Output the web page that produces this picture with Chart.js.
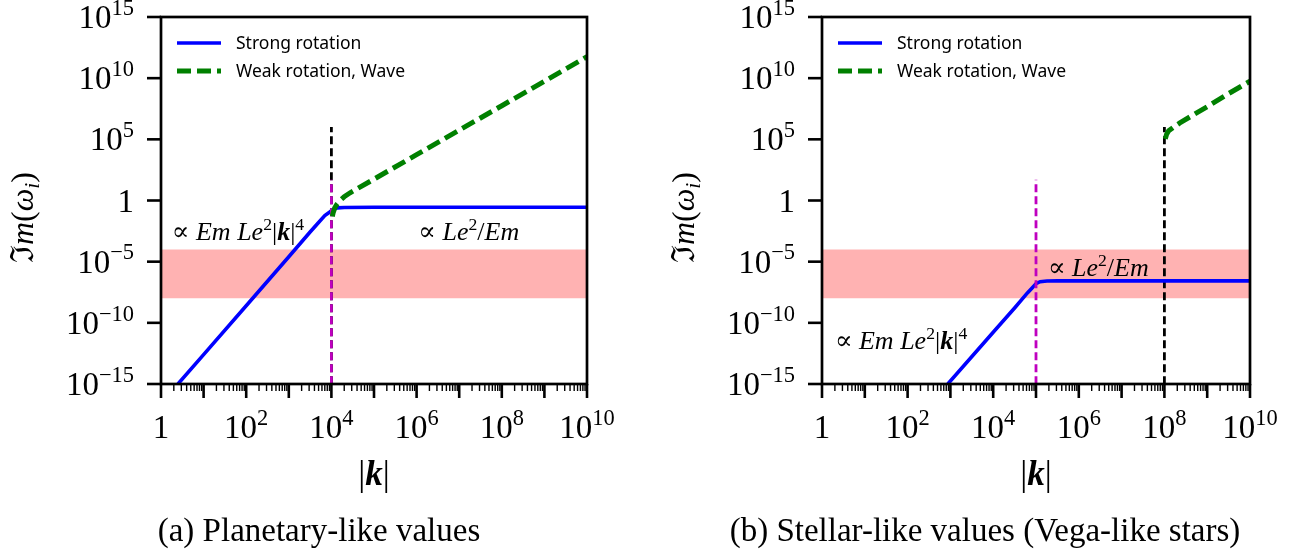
<!DOCTYPE html>
<html>
<head>
<meta charset="utf-8">
<script src="https://cdn.jsdelivr.net/npm/chart.js@4.4.1/dist/chart.umd.min.js"></script>
<style>
  body { margin: 0; background: #fff; }
  #wrap { position: relative; width: 1303px; height: 551px; }
  canvas { position: absolute; top: 0; }
</style>
</head>
<body>
<div id="wrap">
  <canvas id="planet" width="651" height="551" style="left:0"></canvas>
  <canvas id="stellar" width="652" height="551" style="left:651px"></canvas>
</div>
<script>
// axis ticks
const xMajorTicks = [1, 1e1, 1e2, 1e3, 1e4, 1e5, 1e6, 1e7, 1e8, 1e9, 1e10];
const xLabelExps = [0, 2, 4, 6, 8, 10];
const yTickExps = [-15, -10, -5, 0, 5, 10, 15];
const legendLabels = ['Strong rotation', 'Weak rotation, Wave'];

// shaded band (lower, upper)
const bandRange = [1e-8, 1e-4];

// (a) planetary-like values
const planetStrongK = [2.5, 10, 100, 1000, 3200, 5000, 7000, 9000, 11000, 14000, 20000, 1e5, 1e10];
const planetStrongY = [1e-15, 2.5e-13, 2.5e-9, 2.5e-5, 2.8e-3, 0.016, 0.058, 0.11, 0.19, 0.25, 0.27, 0.28, 0.28];
const planetWeakK = [10500, 11000, 12000, 13500, 16000, 20000, 27500, 1e5, 1e6, 1e7, 1e8, 1e9, 1e10];
const planetWeakY = [0.05, 0.1, 0.25, 0.5, 1.0, 2.0, 4.3, 56, 5600, 5.6e5, 5.6e7, 5.6e9, 5.6e11];
const planetOnset = [1e4, 1e6];    // black dashed: k, top value
const planetDivider = [1e4, 50];   // magenta dashed: k, top value

// (b) stellar-like values
const stellarStrongK = [870, 1e4, 32000, 63000, 80000, 1e5, 125000, 180000, 320000, 1e10];
const stellarStrongY = [1e-15, 1.7e-11, 1.7e-9, 2.8e-8, 6.8e-8, 1.6e-7, 2.3e-7, 2.6e-7, 2.7e-7, 2.7e-7];
const stellarWeakK = [1.05e8, 1.12e8, 1.26e8, 1.6e8, 2.3e8, 4e8, 1.2e9, 3.2e9, 1e10];
const stellarWeakY = [1.1e5, 2.5e5, 5e5, 9.3e5, 2.2e6, 7e6, 6.8e7, 5.6e8, 5.6e9];
const stellarOnset = [1e8, 1e6];
const stellarDivider = [1e5, 50];

const SERIF = "'Liberation Serif', 'DejaVu Serif', serif";
const SANS = "'Noto Sans', 'DejaVu Sans', sans-serif";

function pts(xs, ys) {
    return xs.map((x, i) => ({ x: x, y: ys[i] }));
}

function vline(spec) {
    return [{ x: spec[0], y: 1e-16 }, { x: spec[0], y: spec[1] }];
}

// draw a run of text pieces: [text, style, shift] with shift 1 = superscript, -1 = subscript
function drawRich(ctx, segs, x, y, size, align) {
    const parts = segs.map(s => {
        const sz = s[2] ? size * 0.68 : size;
        const st = s[1] === 'i' ? 'italic ' : s[1] === 'bi' ? 'italic bold ' : s[1] === 'b' ? 'bold ' : '';
        const font = st + sz + 'px ' + SERIF;
        ctx.font = font;
        return { t: s[0], font: font, w: ctx.measureText(s[0]).width, dy: s[2] === 1 ? -size * 0.4 : s[2] === -1 ? size * 0.18 : 0 };
    });
    const total = parts.reduce((a, p) => a + p.w, 0);
    let cx = align === 'right' ? x - total : align === 'center' ? x - total / 2 : x;
    ctx.textAlign = 'left';
    ctx.textBaseline = 'alphabetic';
    parts.forEach(p => {
        ctx.font = p.font;
        ctx.fillText(p.t, cx, y + p.dy);
        cx += p.w;
    });
}

function powSegs(e) {
    if (e === 0) return [['1', 'n', 0]];
    return [['10', 'n', 0], [String(e).replace('-', '\u2212'), 'n', 1]];
}

const propLow = [['\u221D ', 'n', 0], ['Em ', 'i', 0], ['Le', 'i', 0], ['2', 'n', 1], ['|', 'n', 0], ['k', 'bi', 0], ['|', 'n', 0], ['4', 'n', 1]];
const propHigh = [['\u221D ', 'n', 0], ['Le', 'i', 0], ['2', 'n', 1], ['/', 'n', 0], ['Em', 'i', 0]];

const decor = {
    id: 'decor',
    afterDraw(chart, args, opts) {
        const ctx = chart.ctx;
        const a = chart.chartArea;
        const xs = chart.scales.x;
        const ys = chart.scales.y;
        ctx.save();
        ctx.fillStyle = '#000';
        ctx.strokeStyle = '#000';

        // frame
        ctx.lineWidth = 2.7;
        ctx.strokeRect(a.left, a.top, a.right - a.left, a.bottom - a.top);

        // y ticks and labels
        ctx.lineWidth = 2.6;
        yTickExps.forEach(e => {
            const py = ys.getPixelForValue(Math.pow(10, e));
            ctx.beginPath();
            ctx.moveTo(a.left - 14, py);
            ctx.lineTo(a.left, py);
            ctx.stroke();
            drawRich(ctx, powSegs(e), a.left - 27, py + 11, 33, 'right');
        });

        // x ticks (major every decade, minor in between)
        xMajorTicks.forEach((k, i) => {
            const px = xs.getPixelForValue(k);
            ctx.lineWidth = 2.6;
            ctx.beginPath();
            ctx.moveTo(px, a.bottom);
            ctx.lineTo(px, a.bottom + 14);
            ctx.stroke();
            if (i < xMajorTicks.length - 1) {
                ctx.lineWidth = 1.4;
                for (let m = 2; m <= 9; m++) {
                    const qx = xs.getPixelForValue(k * m);
                    ctx.beginPath();
                    ctx.moveTo(qx, a.bottom);
                    ctx.lineTo(qx, a.bottom + 7);
                    ctx.stroke();
                }
            }
        });
        xLabelExps.forEach(e => {
            drawRich(ctx, powSegs(e), xs.getPixelForValue(Math.pow(10, e)), 438, 33, 'center');
        });

        // axis titles
        const mid = (a.left + a.right) / 2;
        drawRich(ctx, [['|', 'n', 0], ['k', 'bi', 0], ['|', 'n', 0]], mid, 485, 35, 'center');
        ctx.save();
        ctx.translate(a.left - 128, (a.top + a.bottom) / 2 + 17);
        ctx.rotate(-Math.PI / 2);
        drawRich(ctx, [['\u2111', 'n', 0], ['m', 'i', 0], ['(', 'n', 0], ['\u03C9', 'i', 0], ['i', 'i', -1], [')', 'n', 0]], 0, 0, 32, 'center');
        ctx.restore();

        // annotations
        opts.notes.forEach(n => {
            drawRich(ctx, n.segs, xs.getPixelForValue(n.x), ys.getPixelForValue(n.y) + 9, 26, 'left');
        });

        // legend
        const rows = [[chart.data.datasets[3], 43], [chart.data.datasets[4], 71]];
        rows.forEach(r => {
            const ds = r[0];
            ctx.strokeStyle = ds.borderColor;
            ctx.lineWidth = ds.borderWidth;
            ctx.setLineDash(ds.borderDash || []);
            ctx.beginPath();
            ctx.moveTo(a.left + 16, r[1]);
            ctx.lineTo(a.left + 60, r[1]);
            ctx.stroke();
            ctx.setLineDash([]);
            ctx.font = '17.5px ' + SANS;
            ctx.textAlign = 'left';
            ctx.textBaseline = 'middle';
            ctx.fillStyle = '#000';
            ctx.fillText(ds.label, a.left + 75, r[1] + 1);
        });

        // caption
        ctx.font = '33px ' + SERIF;
        ctx.textAlign = 'center';
        ctx.textBaseline = 'alphabetic';
        ctx.fillText(opts.caption, opts.captionX, 541);
        ctx.restore();
    }
};

function makePanel(id, strong, weak, onset, divider, pad, notes, caption, captionX) {
    return new Chart(document.getElementById(id), {
        type: 'line',
        data: {
            datasets: [
                {
                    label: 'band',
                    data: pts([1, 1e10], [bandRange[1], bandRange[1]]),
                    fill: { value: bandRange[0] },
                    backgroundColor: 'rgba(255, 0, 0, 0.3)',
                    borderWidth: 0,
                    order: 6,
                },
                {
                    label: 'onset',
                    data: vline(onset),
                    borderColor: '#000000',
                    borderWidth: 2.8,
                    borderDash: [8, 4],
                    order: 5,
                },
                {
                    label: 'divider',
                    data: vline(divider),
                    borderColor: '#bf00bf',
                    borderWidth: 2.8,
                    borderDash: [8, 4],
                    order: 3,
                },
                {
                    label: legendLabels[0],
                    data: strong,
                    borderColor: '#0000ff',
                    borderWidth: 3.6,
                    order: 4,
                },
                {
                    label: legendLabels[1],
                    data: weak,
                    borderColor: '#008000',
                    borderWidth: 5,
                    borderDash: [14, 6],
                    order: 2,
                },
            ],
        },
        options: {
            responsive: false,
            animation: false,
            devicePixelRatio: 1,
            layout: { padding: pad },
            elements: { point: { radius: 0 }, line: { tension: 0, fill: false } },
            plugins: {
                legend: { display: false },
                tooltip: { enabled: false },
                decor: { notes: notes, caption: caption, captionX: captionX },
            },
            scales: {
                x: { type: 'logarithmic', min: 1, max: 1e10, display: false },
                y: { type: 'logarithmic', min: 1e-15, max: 1e15, display: false },
            },
        },
        plugins: [decor],
    });
}

makePanel('planet',
    pts(planetStrongK, planetStrongY), pts(planetWeakK, planetWeakY),
    planetOnset, planetDivider,
    { left: 161, right: 64, top: 17, bottom: 167 },
    [{ segs: propLow, x: 1.8, y: 3e-3 }, { segs: propHigh, x: 1.1e6, y: 3e-3 }],
    '(a) Planetary-like values', 319);

makePanel('stellar',
    pts(stellarStrongK, stellarStrongY), pts(stellarWeakK, stellarWeakY),
    stellarOnset, stellarDivider,
    { left: 171, right: 53, top: 17, bottom: 167 },
    [{ segs: propHigh, x: 1.9e5, y: 3.5e-6 }, { segs: propLow, x: 2, y: 4e-12 }],
    '(b) Stellar-like values (Vega-like stars)', 334);
</script>
</body>
</html>
